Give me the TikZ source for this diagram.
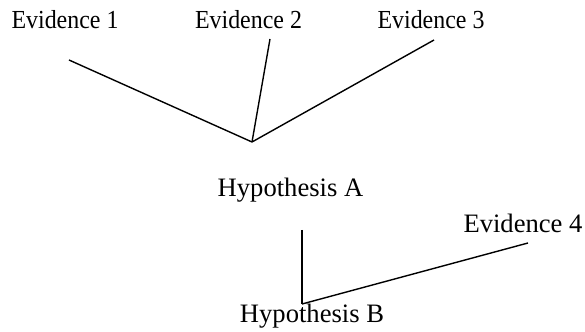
\documentclass[tikz,border=0pt]{standalone}
\usepackage{fontspec}
\setmainfont{Liberation Serif}
\newfontfamily\narrowserif[FakeStretch=0.92]{Liberation Serif}
\usetikzlibrary{calc}

\begin{document}
\begin{tikzpicture}[
    x=0.5pt, y=0.5pt,
    evidence/.style={inner sep=0pt, anchor=base, font=\narrowserif\fontsize{13}{16}\selectfont},
    hypothesis/.style={inner sep=0pt, anchor=base, font=\fontsize{13.3}{16}\selectfont},
    link/.style={line width=0.7pt}
]
\useasboundingbox (0,0) rectangle (585,332);

% Top row of evidence
\node[evidence] (ev1) at (65,303) {Evidence 1};
\node[evidence] (ev2) at (248.5,303) {Evidence 2};
\node[evidence] (ev3) at (431,303) {Evidence 3};

% Hypotheses
\node[hypothesis] (hypA) at (290.5,135) {Hypothesis A};
\node[hypothesis] (ev4) at (523,99) {Evidence 4};
\node[hypothesis] (hypB) at (312,9) {Hypothesis B};

\coordinate (joinA) at (252,190);
\coordinate (joinB) at (302,28);

% Links
\draw[link] ([shift={(4,-31)}]ev1.base) -- (joinA);
\draw[link] ([shift={(21.5,-10)}]ev2.base) -- (joinA);
\draw[link] ([shift={(3,-11)}]ev3.base) -- (joinA);
\draw[link] ([shift={(11.5,-33)}]hypA.base) -- (joinB);
\draw[link] ([shift={(5,-10)}]ev4.base) -- (joinB);
\end{tikzpicture}
\end{document}
